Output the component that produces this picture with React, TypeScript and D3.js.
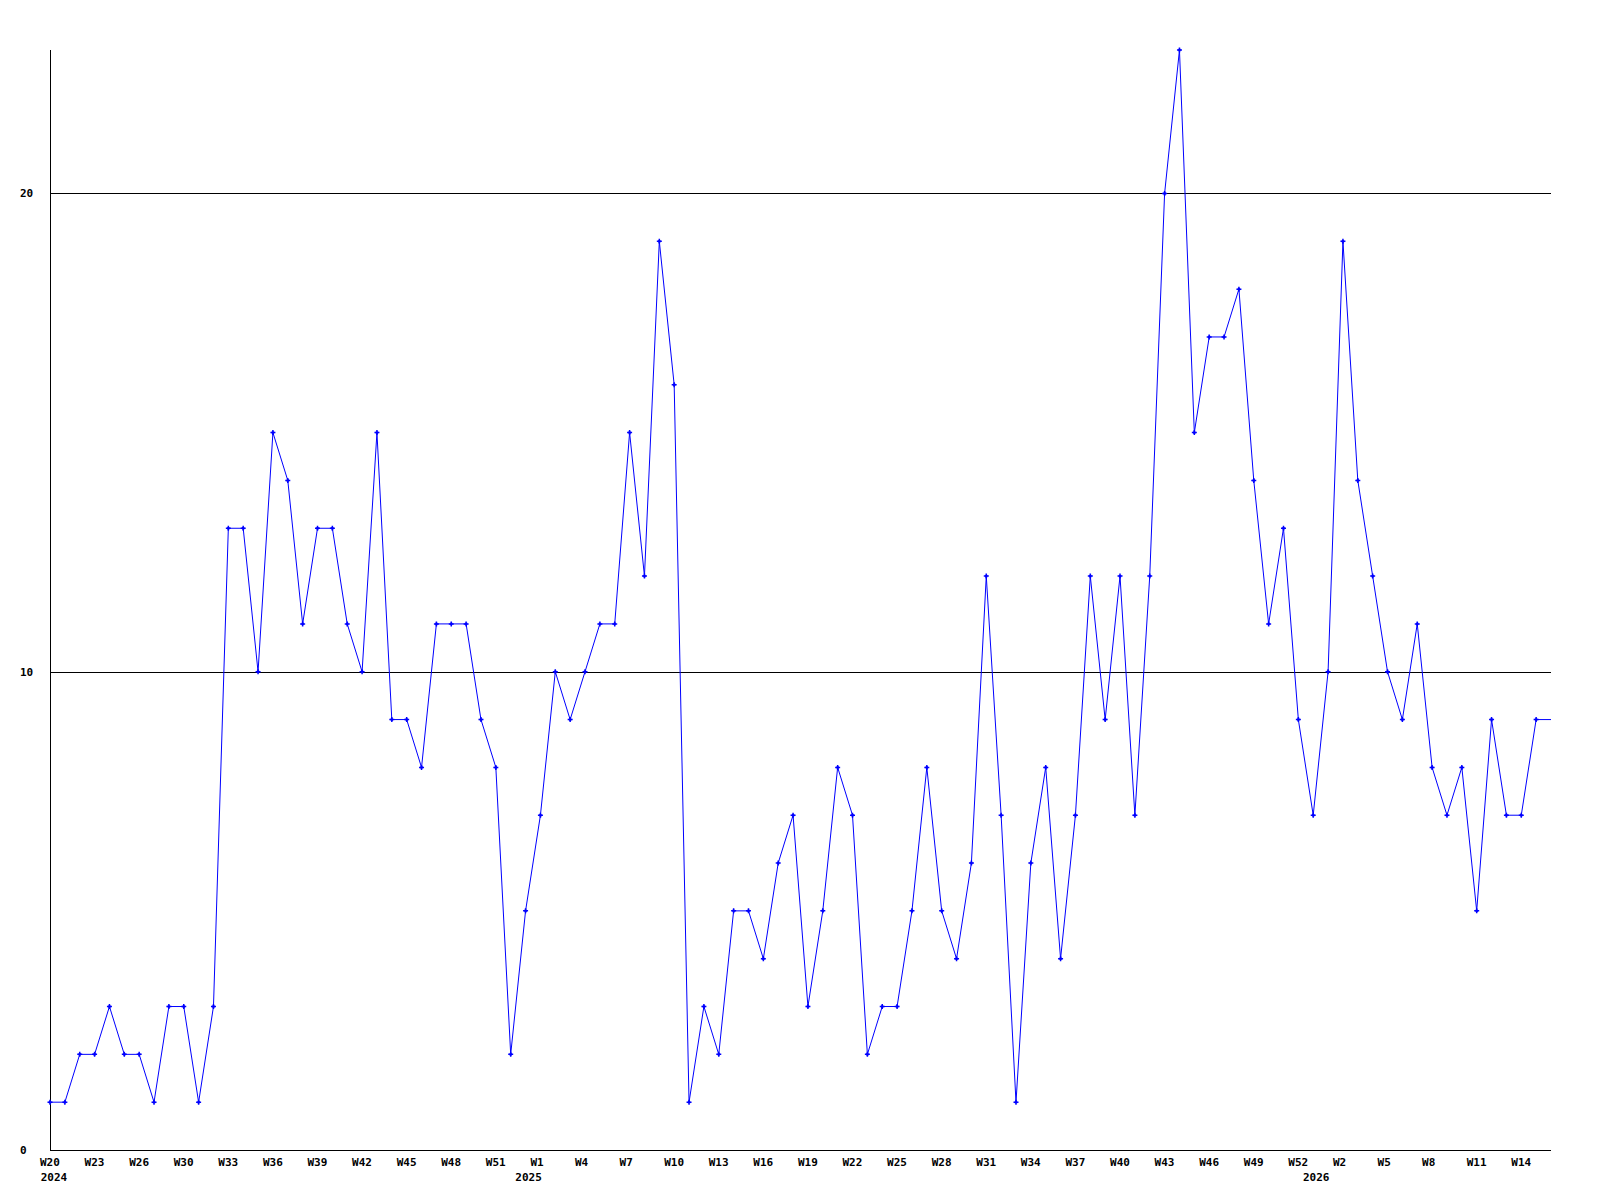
import React from 'react';
import * as d3 from 'd3';

const values: number[] = [
  1, 1, 2, 2, 3, 2, 2, 1, 3, 3,
  1, 3, 13, 13, 10, 15, 14, 11, 13, 13,
  11, 10, 15, 9, 9, 8, 11, 11, 11, 9,
  8, 2, 5, 7, 10, 9, 10, 11, 11, 15,
  12, 19, 16, 1, 3, 2, 5, 5, 4, 6,
  7, 3, 5, 8, 7, 2, 3, 3, 5, 8,
  5, 4, 6, 12, 7, 1, 6, 8, 4, 7,
  12, 9, 12, 7, 12, 20, 23, 15, 17, 17,
  18, 14, 11, 13, 9, 7, 10, 19, 14, 12,
  10, 9, 11, 8, 7, 8, 5, 9, 7, 7,
  9, 9,
];

const weekTickLabels: string[] = [
  'W20', 'W23', 'W26', 'W30', 'W33', 'W36', 'W39', 'W42', 'W45', 'W48', 'W51',
  'W1', 'W4', 'W7', 'W10', 'W13', 'W16', 'W19', 'W22', 'W25', 'W28', 'W31',
  'W34', 'W37', 'W40', 'W43', 'W46', 'W49', 'W52', 'W2', 'W5', 'W8', 'W11', 'W14',
];
const tickEvery = 3;

const yearLabels: string[] = ['2024', '2025', '2026'];
const yearLabelPos: number[] = [0.27, 32.2, 85.2];

const yTicks: number[] = [0, 10, 20];
const yMax = 23;

const W = 1600;
const H = 1200;
const left = 50;
const right = 1551;
const top = 50;
const bottom = 1150;
const font = '"DejaVu Sans Mono", monospace';

export default function App() {
  const x = d3.scaleLinear().domain([0, values.length - 1]).range([left, right]);
  const y = d3.scaleLinear().domain([0, yMax]).range([bottom, top]);
  const line = d3.line<number>().x((_, i) => x(i)).y((d) => y(d));
  const markerIdx = values.map((_, i) => i).filter((i) => i < values.length - 1);

  return (
    <svg width={W} height={H} style={{ position: 'absolute', left: 0, top: 0, background: '#fff' }}>
      <rect width={W} height={H} fill="#fff" />
      {yTicks.filter((t) => t > 0).map((t) => (
        <line key={t} x1={left} x2={right} y1={Math.round(y(t)) + 0.5} y2={Math.round(y(t)) + 0.5} stroke="#000" strokeWidth={1} />
      ))}
      <line x1={left + 0.5} x2={left + 0.5} y1={top} y2={bottom} stroke="#000" strokeWidth={1} />
      <line x1={left} x2={right} y1={bottom + 0.5} y2={bottom + 0.5} stroke="#000" strokeWidth={1} />
      {yTicks.map((t) => (
        <text key={t} x={20} y={Math.round(y(t)) + 4} fontFamily={font} fontWeight="bold" fontSize={11} fill="#000">{t}</text>
      ))}
      {weekTickLabels.map((l, k) => (
        <text key={l + k} x={x(k * tickEvery) - 10} y={1166} textAnchor="start" fontFamily={font} fontWeight="bold" fontSize={11} fill="#000">{l}</text>
      ))}
      {yearLabels.map((l, k) => (
        <text key={l} x={x(yearLabelPos[k])} y={1181} textAnchor="middle" fontFamily={font} fontWeight="bold" fontSize={11} fill="#000">{l}</text>
      ))}
      <path d={line(values) || ''} fill="none" stroke="#0000ff" strokeWidth={1} />
      {markerIdx.map((i) => (
        <g key={i} transform={`translate(${x(i)},${y(values[i])})`}>
          <path d="M-2.5,0H2.5M0,-2.5V2.5" stroke="#0000ff" strokeWidth={1.5} />
          <rect x={-1.2} y={-1.2} width={2.4} height={2.4} fill="#0000ff" />
        </g>
      ))}
    </svg>
  );
}
